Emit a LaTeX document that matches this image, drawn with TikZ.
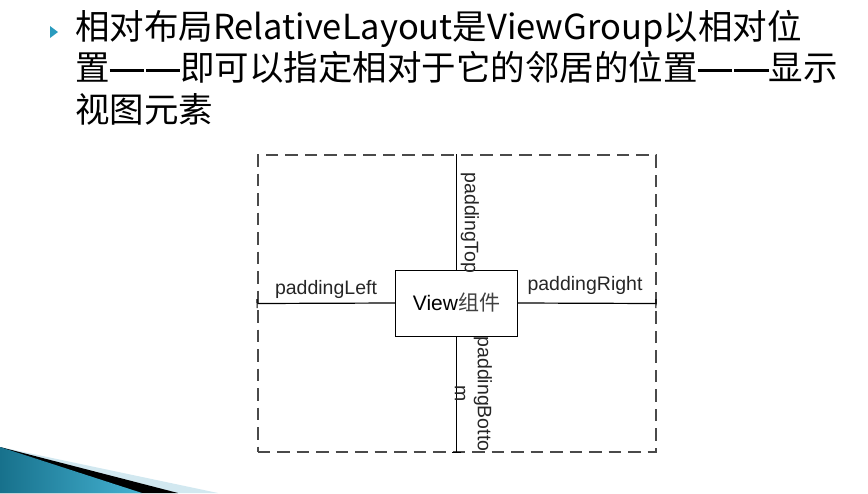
\documentclass[tikz,border=0pt]{standalone}
\usepackage{fontspec}
\setmainfont{Liberation Sans}
\newfontfamily\cjk{Noto Sans CJK SC}
\usetikzlibrary{arrows.meta}
\definecolor{bulletteal}{HTML}{2A9BBE}
\definecolor{darkteal}{HTML}{17718C}
\definecolor{lightteal}{HTML}{45B2D2}
\definecolor{paleblue}{HTML}{D2E8F0}
\definecolor{dashgray}{HTML}{4A4A4A}
\newcommand{\longdash}{\rule[0.25em]{1em}{2.4pt}\kern0.05em\rule[0.25em]{1em}{2.4pt}}
\begin{document}
\begin{tikzpicture}[x=1pt,y=-1pt,
				title/.style={anchor=base west,inner sep=0pt,font=\cjk\fontsize{34.5}{41.5}\selectfont},
				viewbox/.style={draw,thick,minimum width=122pt,minimum height=66pt,inner sep=0pt,font=\fontsize{21}{24}\selectfont},
				frame/.style={draw=dashgray,line width=2pt,dash pattern=on 12.5pt off 7pt,minimum width=398pt,minimum height=297pt,inner sep=0pt},
				padline/.style={draw,line width=1.2pt},
				label/.style={inner sep=1pt,font=\fontsize{19.5}{23}\selectfont,text=black!85}
]
\useasboundingbox (0,0) rectangle (868,493);
% heading
\fill[bulletteal] (50,26) -- (58,32) -- (50,38) -- cycle;
\node[title] (title1) at (75,39) {相对布局RelativeLayout是ViewGroup以相对位};
\node[title] (title2) at (75,80.5) {置\longdash 即可以指定相对于它的邻居的位置\longdash 显示};
\node[title] (title3) at (75,122) {视图元素};
% frame and view
\node[frame] (frame) at (456.5,303.5) {};
\node[viewbox] (view) at (456.5,303) {View{\cjk\color{black!75}组件}};
\draw[padline,-{Bar[width=9pt]}] (view.west) -- (frame.west);
\draw[padline,-{Bar[width=9pt]}] (view.east) -- (frame.east);
\draw[padline] (view.north) -- (frame.north);
\draw[padline,-{Bar[width=9pt]}] (view.south) -- (frame.south);
\node[label,anchor=south] (lleft) at (326,300) {paddingLeft};
\node[label,anchor=south] (lright) at (585,296) {paddingRight};
\node[label,rotate=-90] (ltop) at (470,223) {paddingTop};
\node[label,rotate=-90,align=center] (lbottom) at (473.5,394) {paddingBotto\\m};
% corner decoration
\fill[paleblue] (0,447) -- (218,493) -- (0,493) -- cycle;
\fill[black] (0,447) -- (178,493) -- (0,493) -- cycle;
\shade[left color=darkteal,right color=lightteal] (0,447) -- (142,493) -- (0,493) -- cycle;
\end{tikzpicture}
\end{document}
